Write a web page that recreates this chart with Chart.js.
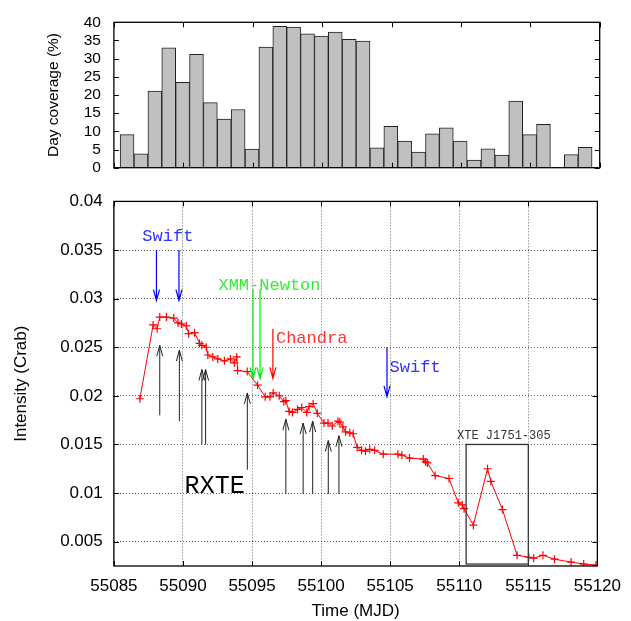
<!DOCTYPE html>
<html>
<head>
<meta charset="utf-8">
<script src="https://cdn.jsdelivr.net/npm/chart.js@4.4.1/dist/chart.umd.min.js"></script>
<style>
  body { margin: 0; background: #fff; }
  #wrap { position: relative; width: 631px; height: 621px; overflow: hidden; }
  canvas { position: absolute; left: 0; }
</style>
</head>
<body>
<div id="wrap">
  <canvas id="lcChart" width="631" height="441" style="top:180px"></canvas>
  <canvas id="covChart" width="631" height="190" style="top:0"></canvas>
</div>
<script>
// Day coverage histogram (top panel)
const covDays = [55085.95, 55086.95, 55087.95, 55088.95, 55089.95, 55090.95, 55091.95, 55092.95, 55093.95,
  55094.95, 55095.95, 55096.95, 55097.95, 55098.95, 55099.95, 55100.95, 55101.95, 55102.95, 55103.95,
  55104.95, 55105.95, 55106.95, 55107.95, 55108.95, 55109.95, 55110.95, 55111.95, 55112.95, 55113.95,
  55114.95, 55115.95, 55116.95, 55117.95, 55118.95];
const covPct = [9.1, 3.8, 21.1, 33.0, 23.5, 31.2, 17.9, 13.4, 16.0, 5.1, 33.2, 38.9, 38.7, 36.8, 36.2,
  37.3, 35.3, 34.8, 5.5, 11.4, 7.3, 4.3, 9.3, 11.0, 7.3, 2.1, 5.2, 3.5, 18.3, 9.1, 11.9, 0, 3.6, 5.6];
const covTicks = [0, 5, 10, 15, 20, 25, 30, 35, 40];

// Light curve (bottom panel)
const lcTime = [55086.88, 55087.84, 55088.13, 55088.32, 55088.80, 55089.33, 55089.64, 55089.88, 55090.24,
  55090.41, 55090.84, 55091.20, 55091.37, 55091.69, 55091.80, 55092.16, 55092.52, 55093.00, 55093.44,
  55093.72, 55093.89, 55093.96, 55094.65, 55095.40, 55095.95, 55096.30, 55096.53, 55096.97, 55097.30,
  55097.45, 55097.69, 55097.93, 55098.29, 55098.60, 55098.96, 55099.13, 55099.42, 55099.73, 55100.21,
  55100.50, 55100.81, 55101.22, 55101.36, 55101.58, 55101.77, 55102.08, 55102.32, 55102.61, 55102.93,
  55103.21, 55103.52, 55103.88, 55104.50, 55105.56, 55105.85, 55106.40, 55107.40, 55107.57, 55107.70,
  55108.26, 55109.26, 55109.93, 55110.22, 55110.35, 55111.02, 55112.05, 55112.29, 55113.13, 55114.19,
  55115.03, 55115.39, 55116.06, 55116.90, 55118.10, 55119.01, 55119.90];
const lcRate = [0.0197, 0.0273, 0.0269, 0.0281, 0.0281, 0.0280, 0.0275, 0.0274, 0.0272,
  0.0264, 0.0265, 0.0254, 0.0252, 0.0250, 0.0242, 0.0240, 0.0238, 0.0236, 0.0238,
  0.0234, 0.0240, 0.0226, 0.0225, 0.0211, 0.0199, 0.0199, 0.0203, 0.0200, 0.0194,
  0.0195, 0.0184, 0.0183, 0.0186, 0.0188, 0.0183, 0.0189, 0.0192, 0.0182, 0.0172,
  0.0172, 0.0169, 0.0174, 0.0173, 0.0168, 0.0163, 0.0162, 0.0161, 0.0147, 0.0144,
  0.0143, 0.0145, 0.0144, 0.0140, 0.0140, 0.0139, 0.0136, 0.0135, 0.0132, 0.0131,
  0.0118, 0.0115, 0.0090, 0.0088, 0.0084, 0.0067, 0.0125, 0.0112, 0.0083, 0.0036,
  0.0034, 0.0033, 0.0036, 0.0032, 0.0029, 0.0027, 0.0026];
const timeTicks = [55085, 55090, 55095, 55100, 55105, 55110, 55115, 55120];
const rateTicks = [0.005, 0.01, 0.015, 0.02, 0.025, 0.03, 0.035, 0.04];

// Observation markers (time, arrow tail, arrow head)
const swiftTime = [55088.08, 55089.71, 55104.77];
const swiftFrom = [0.035, 0.035, 0.025];
const swiftTo = [0.0298, 0.0298, 0.0199];
const xmmTime = [55095.07, 55095.58];
const xmmFrom = [0.0310, 0.0310];
const xmmTo = [0.0218, 0.0218];
const chandraTime = [55096.51];
const chandraFrom = [0.0269];
const chandraTo = [0.0218];
const rxteTime = [55088.32, 55089.74, 55091.37, 55091.64, 55094.66, 55097.45, 55098.70, 55099.39, 55100.52, 55101.29];
const rxteFrom = [0.0180, 0.0174, 0.0150, 0.0150, 0.0124, 0.0099, 0.0099, 0.0099, 0.0099, 0.0099];
const rxteTo = [0.0252, 0.0247, 0.0227, 0.0227, 0.0203, 0.0176, 0.0172, 0.0174, 0.0154, 0.0159];
// XTE J1751-305 box: t0, t1, low, high
const xteBox = [55110.5, 55115.0, 0.0027, 0.015];

const SANS = 'Liberation Sans, Arial, sans-serif';
const MONO = 'Liberation Mono, Courier New, monospace';

// frame with inward ticks, gnuplot style
function framePlugin(xt, yt) {
    return {
        id: 'frame',
        afterDatasetsDraw(chart) {
            const {ctx, chartArea: a, scales} = chart;
            ctx.save();
            ctx.strokeStyle = '#000';
            ctx.lineWidth = 1;
            ctx.beginPath();
            xt.forEach(v => {
                const px = Math.round(scales.x.getPixelForValue(v)) + 0.5;
                ctx.moveTo(px, a.bottom); ctx.lineTo(px, a.bottom - 5);
                ctx.moveTo(px, a.top); ctx.lineTo(px, a.top + 5);
            });
            yt.forEach(v => {
                const py = Math.round(scales.y.getPixelForValue(v)) + 0.5;
                ctx.moveTo(a.left, py); ctx.lineTo(a.left + 5, py);
                ctx.moveTo(a.right, py); ctx.lineTo(a.right - 5, py);
            });
            ctx.stroke();
            ctx.lineWidth = 1.3;
            ctx.strokeRect(a.left, a.top, a.right - a.left, a.bottom - a.top);
            ctx.restore();
        }
    };
}

function yTitlePlugin(text, cx, size) {
    return {
        id: 'ytitle',
        afterDraw(chart) {
            const {ctx, chartArea: a} = chart;
            ctx.save();
            ctx.translate(cx, (a.top + a.bottom) / 2);
            ctx.rotate(-Math.PI / 2);
            ctx.fillStyle = '#000';
            ctx.font = size + 'px ' + SANS;
            ctx.textAlign = 'center';
            ctx.textBaseline = 'middle';
            ctx.fillText(text, 0, 0);
            ctx.restore();
        }
    };
}

function arrow(ctx, x, y0, y1) {
    const dir = Math.sign(y1 - y0);
    ctx.beginPath();
    ctx.moveTo(x, y0); ctx.lineTo(x, y1);
    ctx.moveTo(x - 3, y1 - dir * 11); ctx.lineTo(x, y1); ctx.lineTo(x + 3, y1 - dir * 11);
    ctx.stroke();
}

const notesPlugin = {
    id: 'notes',
    afterDatasetsDraw(chart) {
        const {ctx, scales: {x, y}} = chart;
        const group = (times, from, to, color) => {
            ctx.strokeStyle = color;
            times.forEach((t, i) => arrow(ctx, x.getPixelForValue(t), y.getPixelForValue(from[i]), y.getPixelForValue(to[i])));
        };
        const label = (txt, t, v, color, size) => {
            ctx.fillStyle = color;
            ctx.font = size + 'px ' + MONO;
            ctx.textAlign = 'left';
            ctx.textBaseline = 'middle';
            ctx.fillText(txt, x.getPixelForValue(t), y.getPixelForValue(v));
        };
        ctx.save();
        ctx.lineWidth = 1.2;
        group(swiftTime, swiftFrom, swiftTo, '#0000ff');
        group(xmmTime, xmmFrom, xmmTo, '#00ee00');
        group(chandraTime, chandraFrom, chandraTo, '#ff0000');
        ctx.lineWidth = 1;
        group(rxteTime, rxteFrom, rxteTo, '#222');

        label('Swift', 55087.06, 0.0364, '#3333ff', 17);
        label('Swift', 55104.96, 0.0229, '#3333ff', 17);
        label('XMM-Newton', 55092.57, 0.0314, '#33ee33', 17);
        label('Chandra', 55096.73, 0.0259, '#ff3333', 17);
        label('RXTE', 55090.12, 0.0107, '#000', 25);
        label('XTE J1751-305', 55109.84, 0.0159, '#333', 12);

        const x0 = x.getPixelForValue(xteBox[0]), x1 = x.getPixelForValue(xteBox[1]);
        const y0 = y.getPixelForValue(xteBox[2]), y1 = y.getPixelForValue(xteBox[3]);
        ctx.strokeStyle = '#333';
        ctx.lineWidth = 1.3;
        ctx.strokeRect(x0, y1, x1 - x0, y0 - y1);
        ctx.restore();
    }
};

const setTicks = list => axis => { axis.ticks = list.map(v => ({value: v})); };

// top panel
new Chart(document.getElementById('covChart'), {
    type: 'bar',
    data: {
        datasets: [{
            data: covDays.map((d, i) => ({x: d, y: covPct[i]})),
            backgroundColor: '#c0c0c0',
            borderColor: '#222',
            borderWidth: 1,
            barPercentage: 1,
            categoryPercentage: 1
        }]
    },
    options: {
        responsive: false,
        animation: false,
        layout: {padding: {left: 0, right: 31.3, top: 15, bottom: 15.3}},
        plugins: {legend: {display: false}, tooltip: {enabled: false}},
        scales: {
            x: {
                type: 'linear', min: 55085, max: 55120, offset: false,
                grid: {display: false, drawTicks: false},
                border: {display: false},
                ticks: {display: false, autoSkip: false},
                afterBuildTicks: setTicks(timeTicks),
                afterFit: axis => { axis.height = 0; }
            },
            y: {
                min: 0, max: 40,
                grid: {display: false, drawTicks: false},
                border: {display: false},
                ticks: {padding: 13, autoSkip: false, color: '#000', font: {family: SANS, size: 15.5}, callback: v => String(v)},
                afterBuildTicks: setTicks(covTicks),
                afterFit: axis => { axis.width = 113.9; }
            }
        }
    },
    plugins: [framePlugin(timeTicks, covTicks), yTitlePlugin('Day coverage (%)', 53.5, 15.5)]
});

// bottom panel
new Chart(document.getElementById('lcChart'), {
    type: 'line',
    data: {
        datasets: [{
            data: lcTime.map((t, i) => ({x: t, y: lcRate[i]})),
            borderColor: '#ff0000',
            borderWidth: 1,
            pointStyle: 'cross',
            pointRadius: 4,
            pointBorderColor: '#ff0000',
            pointBorderWidth: 1.2,
            fill: false,
            tension: 0
        }]
    },
    options: {
        responsive: false,
        animation: false,
        layout: {padding: {left: 0, right: 31.3, top: 18.7, bottom: 0}},
        plugins: {legend: {display: false}, tooltip: {enabled: false}},
        scales: {
            x: {
                type: 'linear', min: 55085, max: 55120,
                grid: {color: 'rgba(0,0,0,0.6)', drawTicks: false},
                border: {display: false, dash: [1, 2]},
                ticks: {padding: 10, autoSkip: false, maxRotation: 0, color: '#000', font: {family: SANS, size: 17}, callback: v => String(v)},
                afterBuildTicks: setTicks(timeTicks),
                afterFit: axis => { axis.height = 55; }
            },
            y: {
                min: 0.0025, max: 0.04,
                grid: {color: 'rgba(0,0,0,0.6)', drawTicks: false},
                border: {display: false, dash: [1, 2]},
                ticks: {padding: 11.2, autoSkip: false, color: '#000', font: {family: SANS, size: 17}, callback: v => String(v)},
                afterBuildTicks: setTicks(rateTicks),
                afterFit: axis => { axis.width = 113.9; }
            }
        }
    },
    plugins: [
        framePlugin(timeTicks, rateTicks),
        notesPlugin,
        yTitlePlugin('Intensity (Crab)', 21, 17),
        {
            id: 'xtitle',
            afterDraw(chart) {
                const {ctx, chartArea: a} = chart;
                ctx.save();
                ctx.fillStyle = '#000';
                ctx.font = '17px ' + SANS;
                ctx.textAlign = 'center';
                ctx.textBaseline = 'middle';
                ctx.fillText('Time (MJD)', (a.left + a.right) / 2, 431.7);
                ctx.restore();
            }
        }
    ]
});
</script>
</body>
</html>
